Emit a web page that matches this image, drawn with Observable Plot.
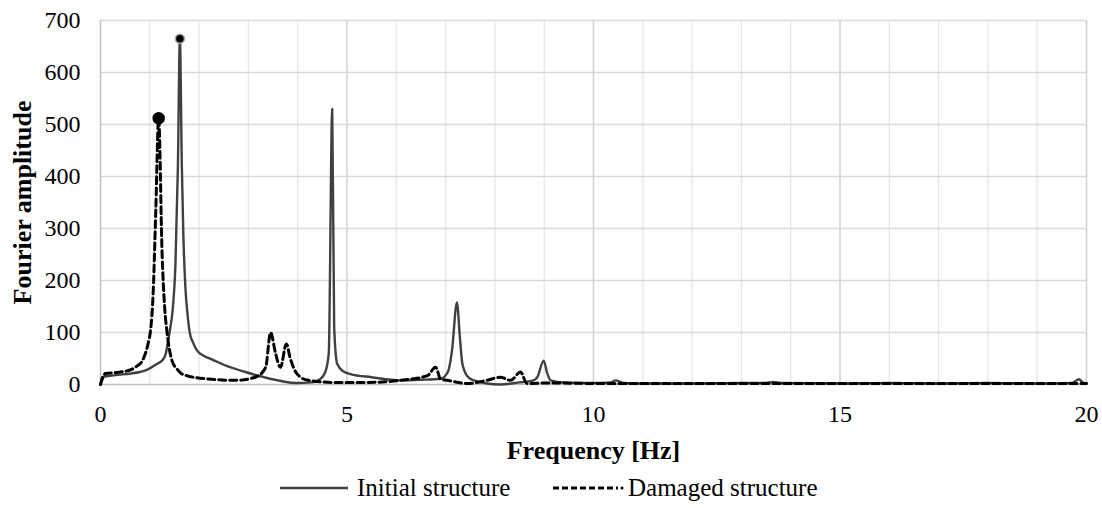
<!DOCTYPE html>
<html><head><meta charset="utf-8">
<script src="https://cdn.jsdelivr.net/npm/d3@7"></script>
<script src="https://cdn.jsdelivr.net/npm/@observablehq/plot@0.6"></script>
<style>
body{margin:0;background:#fff;font-family:"Times New Roman","Liberation Serif",serif;}
#chart svg, #chart svg text{font-family:"Times New Roman","Liberation Serif",serif !important;}
#legend{position:relative;height:36px;font-size:25px;color:#000}
#legend .item{position:absolute;top:0;display:flex;align-items:center;height:36px;white-space:nowrap}
</style></head><body>
<div id="chart"></div>
<div id="legend"></div>
<script>
const initialFreq = [0,0.03,0.3,0.6,0.8,0.91,1.0,1.15,1.25,1.32,1.40,1.47,1.52,1.57,1.61,1.65,1.68,1.72,1.76,1.81,1.88,1.96,2.1,2.27,2.5,2.94,3.4,3.96,4.29,4.45,4.56,4.63,4.7,4.74,4.8,4.93,5.07,5.5,6.08,6.5,6.9,7.05,7.13,7.23,7.29,7.34,7.45,7.57,8.11,8.5,8.78,8.86,8.99,9.06,9.13,9.4,10.0,10.35,10.45,10.6,11.0,12.0,13.0,13.5,13.65,13.8,15.0,16.0,17.0,18.0,19.0,19.7,19.85,19.92,20.0];
const initialAmp  = [0,14,18,21,24,27,31,40,46,58,100,150,230,420,665,420,290,190,140,100,80,65,55,48,38,24,12,3,4,10,24,60,530,110,40,25,20,14,8,9,11,25,65,158,90,40,15,8,0,4,8,14,46,22,8,4,3,4,8,3,2,2,3,3,5,3,2,3,2,3,2,3,10,4,2];
const damagedFreq = [0,0.1,0.3,0.57,0.72,0.85,0.98,1.01,1.07,1.12,1.18,1.25,1.3,1.35,1.45,1.55,1.66,2.13,2.74,3.14,3.35,3.45,3.55,3.65,3.77,3.85,3.96,4.06,4.22,4.73,5.4,6.08,6.63,6.8,6.9,7.03,7.44,7.84,8.11,8.32,8.52,8.65,9.13,10.0,11.0,12.0,13.0,14.0,15.0,16.0,17.0,18.0,19.0,20.0];
const damagedAmp  = [0,21,23,27,34,46,85,100,180,330,512,250,150,100,46,30,20,11,8,14,33,100,60,33,78,50,24,14,8,4,4,8,17,33,10,8,2,8,14,8,24,2,3,2,2,2,2,2,2,2,2,2,2,2];
const yTicks = [0,100,200,300,400,500,600,700];
const xTicks = [0,5,10,15,20];
const xMinor = d3.range(0,21,1);
const seriesNames = ["Initial structure","Damaged structure"];

const initial = initialFreq.map((f,i)=>({f, a: initialAmp[i]}));
const damaged = damagedFreq.map((f,i)=>({f, a: damagedAmp[i]}));
const peakI = initial.reduce((m,d)=>d.a>m.a?d:m);
const peakD = damaged.reduce((m,d)=>d.a>m.a?d:m);

const chart = Plot.plot({
  width: 1102, height: 470,
  marginLeft: 100, marginRight: 16, marginTop: 20, marginBottom: 86,
  style: {fontFamily: "Times New Roman, Liberation Serif, serif", fontSize: "24px", color: "#000", background: "#fff"},
  x: {domain: [0,20]},
  y: {domain: [0,700]},
  marks: [
    Plot.ruleX(xMinor.filter(d=>d%5!==0), {stroke: "#e6e6e6", strokeWidth: 1.3}),
    Plot.ruleX(xTicks.filter(d=>d>0), {stroke: "#d0d0d0", strokeWidth: 1.5}),
    Plot.ruleY(yTicks.filter(d=>d>0), {stroke: "#d9d9d9", strokeWidth: 1.5}),
    Plot.ruleX([0], {stroke: "#bfbfbf", strokeWidth: 1.5}),
    Plot.ruleY([0], {stroke: "#bfbfbf", strokeWidth: 1.5}),
    Plot.axisY({ticks: yTicks, tickSize: 0, tickPadding: 20, fontSize: 24, label: "Fourier amplitude", labelAnchor: "center", labelArrow: "none", labelOffset: 88}),
    Plot.axisX({ticks: xTicks, tickSize: 0, tickPadding: 20, fontSize: 24, label: "Frequency [Hz]", labelAnchor: "center", labelArrow: "none", labelOffset: 74}),
    Plot.lineY(initial, {x: "f", y: "a", stroke: "#404040", strokeWidth: 2.4, curve: "monotone-x"}),
    Plot.lineY(damaged, {x: "f", y: "a", stroke: "#000", strokeWidth: 3, strokeDasharray: "7,4", curve: "monotone-x"}),
    Plot.dot([peakI], {x: "f", y: "a", r: 4.5, fill: "#000", stroke: "#a6a6a6", strokeWidth: 1.5}),
    Plot.dot([peakD], {x: "f", y: "a", r: 5.5, fill: "#000", stroke: "#000"})
  ]
});
d3.select(chart).selectAll("g[aria-label='y-axis label'] text, g[aria-label='x-axis label'] text")
  .style("font-weight","bold").style("font-size","26px");
document.getElementById("chart").appendChild(chart);

const lg = document.getElementById("legend");
const styles = [{stroke:"#404040", dash:null, w:2.4, dot:false, left:280},{stroke:"#000", dash:"6,3", w:2.8, dot:true, left:553}];
seriesNames.forEach((n,i)=>{
  const s = document.createElement("div");
  s.className = "item";
  s.style.left = styles[i].left + "px";
  const dash = styles[i].dash ? `stroke-dasharray="${styles[i].dash}"` : "";
  const dot = styles[i].dot ? `<circle cx="69" cy="7" r="1.6" fill="#000"/>` : "";
  s.innerHTML = `<svg width="72" height="14"><line x1="0" y1="7" x2="${styles[i].dot?65:68}" y2="7" stroke="${styles[i].stroke}" stroke-width="${styles[i].w}" ${dash}/>${dot}</svg><span style="margin-left:${styles[i].dot?3:5}px">${n}</span>`;
  lg.appendChild(s);
});
</script>
</body></html>
